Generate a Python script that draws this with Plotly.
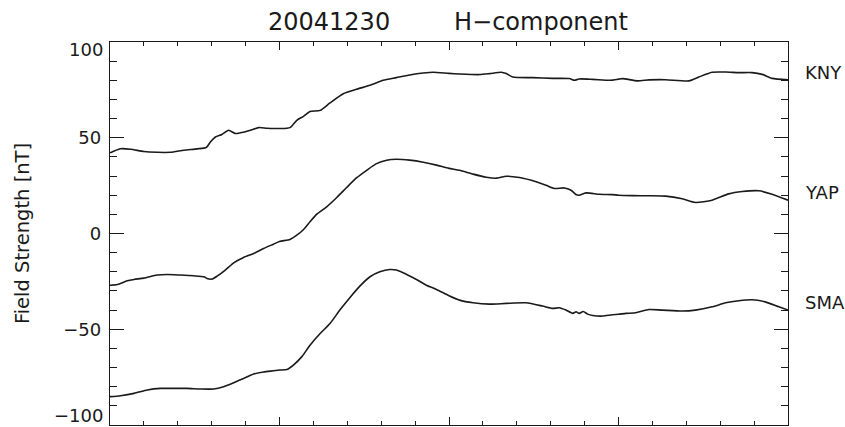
import plotly.graph_objects as go

# Geomagnetic H-component, 2004-12-30, three stations (time in hours)
kny_t = [0, 0.12, 0.31, 0.61, 1.0, 1.39, 1.78, 2.18, 2.57, 2.84, 2.96, 3.11, 3.30, 3.50, 3.70,
         3.94, 4.14, 4.38, 4.63, 5.0, 5.31, 5.51, 5.71, 5.90, 6.20, 6.49, 6.88, 7.27, 7.67,
         8.06, 8.45, 8.84, 9.24, 9.53, 10.0, 10.31, 10.9, 11.2, 11.54, 11.69, 11.88, 12.47,
         13.06, 13.55, 13.7, 13.84, 14.24, 14.77, 15.0, 15.12, 15.56, 15.9, 16.39, 17.08,
         17.37, 17.76, 18.16, 18.55, 18.94, 19.24, 19.53, 20.0]
kny_v = [42.1, 43.1, 44.3, 44.0, 42.8, 42.4, 42.4, 43.5, 44.2, 44.9, 47.8, 50.4, 51.7, 53.9,
         52.2, 52.9, 53.9, 55.3, 55.0, 54.8, 55.3, 59.1, 61.2, 63.7, 64.3, 68.2, 73.0, 75.3,
         77.4, 80.0, 81.4, 82.8, 83.8, 84.2, 83.6, 83.3, 83.0, 83.5, 84.2, 83.5, 81.7, 81.4,
         81.0, 80.9, 80.0, 80.7, 80.5, 80.0, 80.6, 80.9, 79.7, 80.2, 80.3, 79.7, 81.7, 84.2,
         84.3, 84.0, 84.0, 83.1, 81.0, 80.3]

yap_t = [0, 0.22, 0.51, 0.71, 1.0, 1.39, 1.69, 2.08, 2.47, 2.77, 2.86, 3.01, 3.16, 3.40, 3.65,
         3.94, 4.24, 4.53, 4.82, 5.0, 5.31, 5.51, 5.71, 5.90, 6.10, 6.39, 6.69, 6.98, 7.27,
         7.57, 7.86, 8.16, 8.45, 8.84, 9.24, 9.63, 10.0, 10.31, 10.71, 11.10, 11.39, 11.69,
         12.08, 12.57, 12.86, 13.11, 13.40, 13.6, 13.76, 13.84, 14.04, 14.43, 14.82, 15.0,
         15.41, 15.9, 16.39, 16.88, 17.27, 17.76, 18.25, 18.65, 19.14, 19.53, 20.0]
yap_v = [-27.0, -26.6, -24.7, -24.0, -23.3, -21.7, -21.4, -21.7, -22.1, -22.6, -23.5, -23.8,
         -22.3, -19.1, -15.3, -12.5, -10.4, -7.8, -5.6, -4.2, -3.1, -0.9, 2.1, 6.1, 10.1, 13.9,
         18.8, 24.0, 29.0, 33.0, 36.5, 38.3, 38.8, 38.3, 37.2, 35.7, 34.0, 33.0, 31.0, 29.4,
         28.9, 29.9, 29.2, 27.0, 25.2, 23.5, 23.8, 22.6, 20.2, 20.0, 21.2, 20.5, 20.3, 20.0,
         19.8, 19.7, 19.5, 18.1, 16.2, 17.4, 20.7, 21.9, 22.3, 20.5, 17.4]

sma_t = [0, 0.31, 0.71, 1.10, 1.49, 1.88, 2.27, 2.67, 3.06, 3.35, 3.65, 3.94, 4.24, 4.53, 4.82,
         5.0, 5.22, 5.41, 5.66, 5.90, 6.20, 6.49, 6.78, 7.08, 7.37, 7.67, 7.96, 8.25, 8.45,
         8.75, 9.04, 9.33, 9.63, 10.0, 10.31, 10.71, 11.20, 11.69, 12.27, 12.76, 13.06, 13.25,
         13.45, 13.65, 13.75, 13.84, 13.96, 14.09, 14.24, 14.53, 14.82, 15.0, 15.22, 15.51,
         15.9, 16.29, 16.88, 17.27, 17.76, 18.16, 18.55, 18.94, 19.33, 19.73, 20.0]
sma_v = [-85.2, -84.7, -83.5, -81.7, -80.9, -80.9, -80.9, -81.2, -81.2, -80.0, -77.9, -75.7,
         -73.4, -72.3, -71.7, -71.3, -71.0, -68.7, -64.3, -58.3, -52.2, -47.0, -40.0, -33.4,
         -27.5, -22.6, -20.0, -18.8, -19.1, -21.4, -24.0, -27.0, -29.2, -32.5, -34.8, -36.2,
         -36.9, -36.5, -36.2, -37.9, -39.1, -38.8, -40.0, -41.7, -40.9, -41.7, -40.7, -42.1,
         -42.8, -43.1, -42.4, -42.2, -41.7, -41.4, -39.7, -40.0, -40.5, -40.0, -38.3, -36.2,
         -35.1, -34.6, -35.7, -38.3, -40.0]

stations = ["KNY", "YAP", "SMA"]
series = [(kny_t, kny_v), (yap_t, yap_v), (sma_t, sma_v)]

# inner y ticks are labelled by the axis; the two end values are pulled inside the frame
inner_ticks = [-50, 0, 50]
end_ticks = [-100, 100]

title_date = "20041230"
title_comp = "H\u2212component"

INK = "#1a1a1a"
FONT = "DejaVu Sans"

fig = go.Figure()
for name, (t, v) in zip(stations, series):
    fig.add_trace(go.Scatter(x=t, y=v, mode="lines", name=name,
                             line=dict(color=INK, width=1.6, shape="spline", smoothing=0.6),
                             showlegend=False))
    # station name sits on the final value at the right edge
    fig.add_annotation(x=1.022, xref="paper", y=v[-1], yref="y", text=name,
                       showarrow=False, xanchor="left", yanchor="bottom", yshift=-5,
                       font=dict(family=FONT, size=18, color=INK))

for val in end_ticks:
    fig.add_annotation(x=0, xref="paper", y=val, yref="y",
                       text=str(val).replace("-", "\u2212"), showarrow=False,
                       xanchor="right", yanchor="middle", xshift=-5,
                       yshift=-7 if val > 0 else 10,
                       font=dict(family=FONT, size=18, color=INK))

fig.add_annotation(x=0.230, xref="paper", y=1.052, yref="paper", text=title_date,
                   showarrow=False, xanchor="left", yanchor="middle",
                   font=dict(family=FONT, size=24, color=INK))
fig.add_annotation(x=0.504, xref="paper", y=1.052, yref="paper", text=title_comp,
                   showarrow=False, xanchor="left", yanchor="middle",
                   font=dict(family=FONT, size=24, color=INK))

fig.update_xaxes(range=[0, 20], showline=True, linecolor=INK, linewidth=1.3,
                 mirror="allticks", ticks="inside", tick0=0, dtick=5, ticklen=8,
                 tickwidth=1.2, tickcolor=INK, showticklabels=False,
                 showgrid=False, zeroline=False, automargin=False,
                 minor=dict(ticks="inside", dtick=1, ticklen=4, tickwidth=1.1,
                            tickcolor=INK, showgrid=False))
fig.update_yaxes(range=[-100, 100], showline=True, linecolor=INK, linewidth=1.3,
                 mirror="allticks", ticks="inside", tickvals=inner_ticks, ticklen=14,
                 tickwidth=1.2, tickcolor=INK, showgrid=False, zeroline=False,
                 ticklabelstandoff=4, automargin=False,
                 tickfont=dict(family=FONT, size=18, color=INK),
                 title=dict(text="Field Strength [nT]", standoff=28,
                            font=dict(family=FONT, size=19.5, color=INK)),
                 minor=dict(ticks="inside", tick0=0, dtick=10, ticklen=7, tickwidth=1.1,
                            tickcolor=INK, showgrid=False))

fig.update_layout(width=845, height=427, margin=dict(l=110, r=57, t=42, b=2),
                  paper_bgcolor="white", plot_bgcolor="white",
                  font=dict(family=FONT, color=INK))

fig.write_html("out.html")
